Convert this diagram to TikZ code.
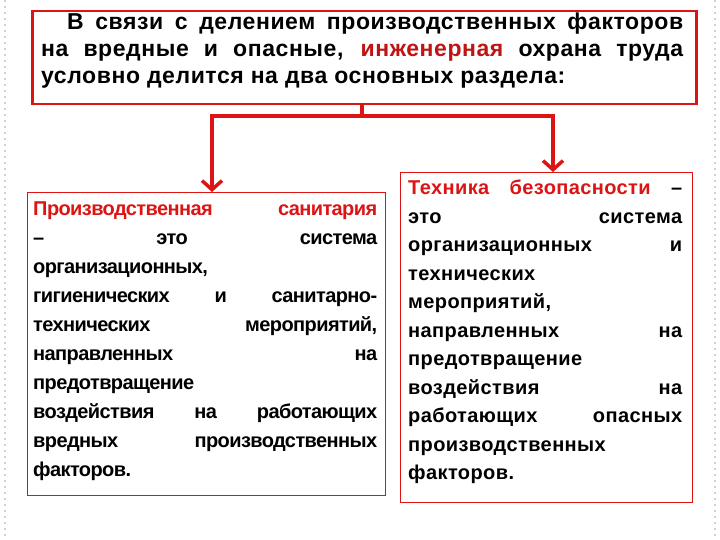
\documentclass[tikz,border=0pt]{standalone}
\usepackage{fontspec}
\setmainfont{Liberation Sans}
\usetikzlibrary{arrows.meta}
\definecolor{rred}{RGB}{220,20,20}
\definecolor{dred}{RGB}{190,20,20}
\tikzset{
  box/.style={draw=rred, fill=white, inner sep=0pt, anchor=north west},
  conn/.style={draw=rred, line width=4pt},
  arr/.style={conn, -{Straight Barb[length=9pt,width=20pt,line width=3.5pt]}},
  txt/.style={anchor=north west, align=justify, inner sep=0pt}
}
\begin{document}
\begin{tikzpicture}[x=1pt,y=-1pt]
\useasboundingbox (0,0) rectangle (720,540);
\fill[white] (0,0) rectangle (720,540);
\foreach \y in {0,6,...,540} {\fill[gray!35] (4,\y) rectangle (6,\y+2); \fill[gray!35] (714,\y) rectangle (716,\y+2);}
\node[box, line width=2.5pt, minimum width=664pt, minimum height=93pt] (top) at (31,10) {};
\node[txt, text width=642pt] (toptext) at (41,13)
 {\fontsize{23}{27}\selectfont\bfseries\addfontfeature{LetterSpace=2.5}\hspace*{26pt}В связи с делением производственных факторов\linebreak на вредные и опасные, \textcolor{dred}{инженерная} охрана труда\linebreak условно делится на два основных раздела:\par};
\node[box, line width=0.8pt, minimum width=358pt, minimum height=303pt] (left) at (27,192) {};
\node[box, line width=0.8pt, minimum width=292pt, minimum height=330pt] (right) at (400,172) {};
\node[txt, text width=344pt] (ltext) at (33,202)
 {\fontsize{20}{29}\selectfont\bfseries\addfontfeature{LetterSpace=-3}\textcolor{rred}{Производственная санитария}\linebreak – это система\linebreak организационных,\hfill\linebreak гигиенических и санитарно-\linebreak технических мероприятий,\linebreak направленных на\linebreak предотвращение\hfill\linebreak воздействия на работающих\linebreak вредных производственных\linebreak факторов.\par};
\node[txt, text width=274pt] (rtext) at (408,180)
 {\fontsize{20}{28.5}\selectfont\bfseries\addfontfeature{LetterSpace=2}\textcolor{rred}{Техника безопасности} –\linebreak это система\linebreak организационных и\linebreak технических\hfill\linebreak мероприятий,\hfill\linebreak направленных на\linebreak предотвращение\hfill\linebreak воздействия на\linebreak работающих опасных\linebreak производственных\hfill\linebreak факторов.\par};
\coordinate (j) at (362,116);
\draw[conn] (top.south -| j) -- (j);
\draw[arr] (j) -- (212,116) -- (left.north -| 212,0);
\draw[arr] (j) -- (553,116) -- (right.north -| 553,0);
\end{tikzpicture}
\end{document}
